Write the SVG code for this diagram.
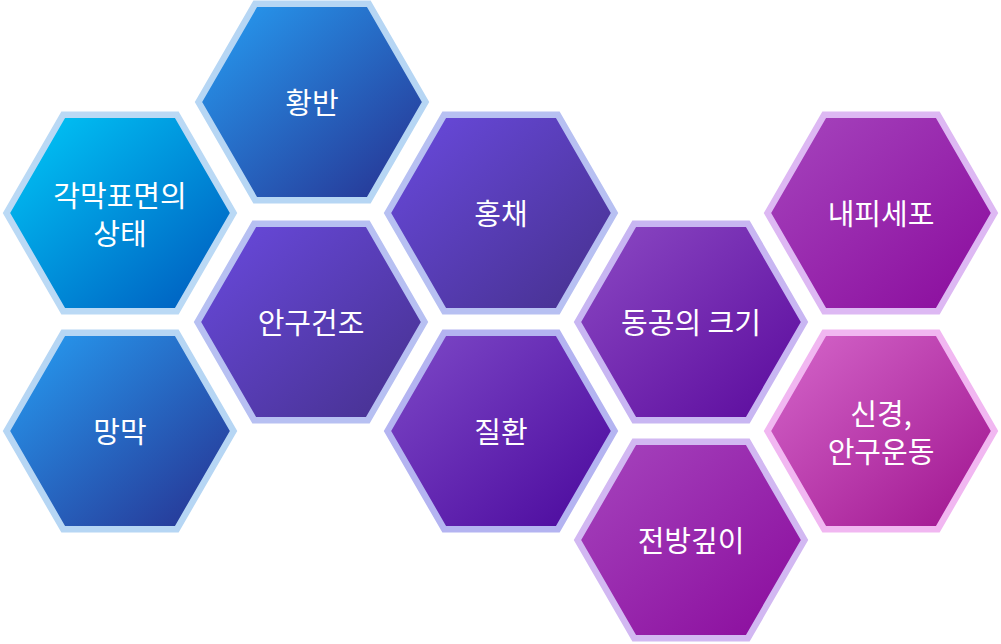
<svg xmlns="http://www.w3.org/2000/svg" xmlns:xlink="http://www.w3.org/1999/xlink" width="1001" height="644" viewBox="0 0 1001 644">
<defs>
<polygon id="hex" points="-113.5,0 -56.75,-98.3 56.75,-98.3 113.5,0 56.75,98.3 -56.75,98.3"/>
<linearGradient id="gCyan" x1="0" y1="0" x2="1" y2="1"><stop offset="0" stop-color="#00CBF9"/><stop offset="1" stop-color="#0056BC"/></linearGradient>
<linearGradient id="gBlue" x1="0" y1="0" x2="1" y2="1"><stop offset="0" stop-color="#26A0F5"/><stop offset="1" stop-color="#272E8E"/></linearGradient>
<linearGradient id="gIndigo" x1="0" y1="0" x2="1" y2="1"><stop offset="0" stop-color="#6A4ADF"/><stop offset="1" stop-color="#45308C"/></linearGradient>
<linearGradient id="gViolet" x1="0" y1="0" x2="1" y2="1"><stop offset="0" stop-color="#7E4AC8"/><stop offset="1" stop-color="#4A079C"/></linearGradient>
<linearGradient id="gPurple" x1="0" y1="0" x2="1" y2="1"><stop offset="0" stop-color="#8C4AC4"/><stop offset="1" stop-color="#5A099C"/></linearGradient>
<linearGradient id="gMagenta" x1="0" y1="0" x2="1" y2="1"><stop offset="0" stop-color="#A646BE"/><stop offset="1" stop-color="#8A0A9C"/></linearGradient>
<linearGradient id="gPink" x1="0" y1="0" x2="1" y2="1"><stop offset="0" stop-color="#D668CB"/><stop offset="1" stop-color="#9E128E"/></linearGradient>
</defs>
<style>
.hx use{stroke-width:6.5;stroke-linejoin:miter}
.t{font-family:"Noto Sans CJK KR","Noto Sans",sans-serif;font-size:29px;font-weight:400;fill:#ffffff;text-anchor:middle}
</style>
<g id="connectors"/>
<g id="node-cornea" class="hx" transform="translate(120,213)">
<use xlink:href="#hex" fill="url(#gCyan)" stroke="#BAD9F5"/>
<text class="t" x="0" y="-6">각막표면의</text>
<text class="t" x="0" y="32">상태</text>
</g>
<g id="node-macula" class="hx" transform="translate(312,102)">
<use xlink:href="#hex" fill="url(#gBlue)" stroke="#B6D6F4"/>
<text class="t" x="0" y="12">황반</text>
</g>
<g id="node-retina" class="hx" transform="translate(120,431)">
<use xlink:href="#hex" fill="url(#gBlue)" stroke="#B6D6F4"/>
<text class="t" x="0" y="12">망막</text>
</g>
<g id="node-dryeye" class="hx" transform="translate(311,322)">
<use xlink:href="#hex" fill="url(#gIndigo)" stroke="#B7C0F2"/>
<text class="t" x="0" y="12">안구건조</text>
</g>
<g id="node-iris" class="hx" transform="translate(501,213)">
<use xlink:href="#hex" fill="url(#gIndigo)" stroke="#B7C0F2"/>
<text class="t" x="0" y="12">홍채</text>
</g>
<g id="node-disease" class="hx" transform="translate(501,431)">
<use xlink:href="#hex" fill="url(#gViolet)" stroke="#B4B4F1"/>
<text class="t" x="0" y="12">질환</text>
</g>
<g id="node-pupil" class="hx" transform="translate(691,322)">
<use xlink:href="#hex" fill="url(#gPurple)" stroke="#C8B6F2"/>
<text class="t" x="0" y="12">동공의 크기</text>
</g>
<g id="node-acd" class="hx" transform="translate(691,540)">
<use xlink:href="#hex" fill="url(#gMagenta)" stroke="#D2B8F2"/>
<text class="t" x="0" y="12">전방깊이</text>
</g>
<g id="node-endothelium" class="hx" transform="translate(881,213)">
<use xlink:href="#hex" fill="url(#gMagenta)" stroke="#DDB8F3"/>
<text class="t" x="0" y="12">내피세포</text>
</g>
<g id="node-nerve" class="hx" transform="translate(881,431)">
<use xlink:href="#hex" fill="url(#gPink)" stroke="#F1B7F1"/>
<text class="t" x="0" y="-6">신경,</text>
<text class="t" x="0" y="32">안구운동</text>
</g>
</svg>
